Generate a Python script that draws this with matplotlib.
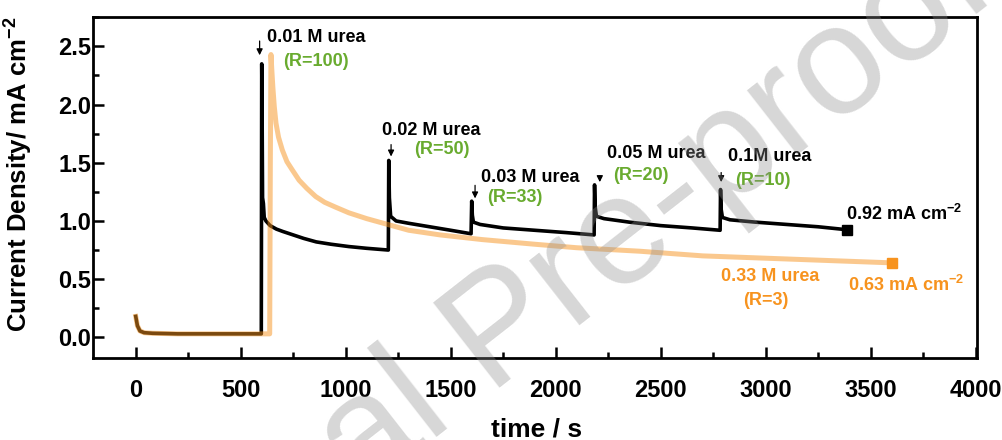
import matplotlib
matplotlib.use('Agg')
import matplotlib.pyplot as plt
from matplotlib.ticker import MultipleLocator

plt.rcParams['font.family'] = ['Liberation Sans', 'DejaVu Sans']
plt.rcParams['font.weight'] = 'bold'
plt.rcParams['mathtext.fontset'] = 'custom'
plt.rcParams['mathtext.rm'] = 'Liberation Sans:bold'
plt.rcParams['mathtext.default'] = 'rm'

# black trace: urea added stepwise (0.01 -> 0.1 M)
black_t = [0, 8, 20, 40, 80, 200, 400, 598, 600, 602, 604, 608, 612, 620, 640, 670, 700,
           750, 800, 860, 930, 1015, 1100, 1203, 1205, 1208, 1214, 1240, 1300, 1400, 1500,
           1597, 1600, 1603, 1608, 1640, 1750, 1900, 2050, 2183, 2185, 2188, 2194, 2230,
           2350, 2500, 2650, 2783, 2785, 2788, 2794, 2830, 2950, 3100, 3250, 3385]
black_j = [0.18, 0.10, 0.055, 0.04, 0.035, 0.03, 0.03, 0.03, 2.35, 1.90, 1.20, 1.15, 1.03,
           1.00, 0.96, 0.93, 0.91, 0.88, 0.85, 0.82, 0.80, 0.78, 0.765, 0.75, 1.52, 1.20,
           1.04, 1.00, 0.98, 0.95, 0.92, 0.89, 1.17, 1.05, 0.99, 0.97, 0.94, 0.92, 0.90,
           0.88, 1.31, 1.12, 1.04, 1.02, 0.99, 0.96, 0.94, 0.92, 1.27, 1.10, 1.03, 1.01,
           0.99, 0.97, 0.95, 0.925]

# orange trace: 0.33 M urea in one go
orange_t = [0, 8, 20, 40, 80, 200, 400, 638, 641, 644, 648, 653, 660, 668, 680, 698, 720,
            745, 778, 815, 857, 900, 950, 1015, 1100, 1200, 1300, 1450, 1650, 1900, 2100,
            2400, 2700, 3000, 3300, 3600]
orange_j = [0.18, 0.10, 0.055, 0.04, 0.035, 0.03, 0.03, 0.03, 1.50, 2.43, 2.30, 2.15, 1.98,
            1.84, 1.72, 1.61, 1.51, 1.44, 1.35, 1.28, 1.21, 1.16, 1.12, 1.07, 1.02, 0.97,
            0.92, 0.88, 0.84, 0.80, 0.77, 0.74, 0.70, 0.68, 0.66, 0.64]

black_end = (3385, 0.925)
orange_end = (3600, 0.64)

# arrows above each addition: (t, y_from, y_to)
arrows = [(590, 2.57, 2.40), (1216, 1.68, 1.53), (1616, 1.33, 1.17),
          (2210, 1.41, 1.31), (2788, 1.44, 1.31)]

# labels: (text, t, j)
black_labels = [('0.01 M urea', 623, 2.58), ('0.02 M urea', 1173, 1.78),
                ('0.03 M urea', 1642, 1.37), ('0.05 M urea', 2244, 1.58),
                ('0.1M urea', 2820, 1.55)]
green_labels = [('(R=100)', 859, 2.37), ('(R=50)', 1457, 1.61), ('(R=33)', 1807, 1.20),
                ('(R=20)', 2404, 1.39), ('(R=10)', 2986, 1.35)]

ORANGE = '#F7931E'
GREEN = '#69AB2F'

fig = plt.figure(figsize=(10.03, 4.40), dpi=100)
ax = fig.add_axes([0.0924, 0.1857, 0.8814, 0.775])

ax.plot(black_t, black_j, color='black', lw=2.6, zorder=3)
ax.plot(orange_t, orange_j, color=ORANGE, lw=3.6, alpha=0.5, zorder=4)
ax.plot(*black_end, 's', color='black', ms=7, zorder=5)
ax.plot(*orange_end, 's', color=ORANGE, ms=7, zorder=5)

for t, y0, y1 in arrows:
    ax.annotate('', xy=(t, y1), xytext=(t, y0),
                arrowprops=dict(arrowstyle='-|>', color='black', lw=0.9, mutation_scale=9))

for s, t, j in black_labels:
    ax.text(t, j, s, ha='left', va='center', fontsize=13, color='black')
for s, t, j in green_labels:
    ax.text(t, j, s, ha='center', va='center', fontsize=13, color=GREEN)

ax.text(3381, 1.06, '0.92 mA cm$^{-2}$', ha='left', va='center', fontsize=13, color='black')
ax.text(3020, 0.52, '0.33 M urea', ha='center', va='center', fontsize=13, color=ORANGE)
ax.text(3002, 0.32, '(R=3)', ha='center', va='center', fontsize=13, color=ORANGE)
ax.text(3393, 0.45, '0.63 mA cm$^{-2}$', ha='left', va='center', fontsize=13, color=ORANGE)

ax.set_xlim(-205, 4005)
ax.set_ylim(-0.18, 2.75)
ax.xaxis.set_major_locator(MultipleLocator(500))
ax.xaxis.set_minor_locator(MultipleLocator(250))
ax.yaxis.set_major_locator(MultipleLocator(0.5))
ax.yaxis.set_minor_locator(MultipleLocator(0.25))
ax.tick_params(which='both', direction='in', top=False, right=False, width=1.8, labelsize=17)
ax.tick_params(which='major', length=8)
ax.tick_params(which='minor', length=4)
ax.tick_params(axis='x', pad=15)
ax.tick_params(axis='y', pad=1)
for sp in ax.spines.values():
    sp.set_linewidth(2)

ax.set_xlabel('time / s', fontsize=19, fontweight='bold', va='top')
ax.xaxis.set_label_coords(0.502, -0.175)
ax.set_ylabel('Current Density/ mA cm$^{-2}$', fontsize=18.5, fontweight='bold')
ax.yaxis.set_label_coords(-0.0655, 0.54)

# watermark
fig.text(0.054, -0.673, 'Journal Pre-proof', fontsize=112, fontweight='normal', color='0.55',
         alpha=0.35, rotation=38, rotation_mode='anchor', ha='left', va='baseline', zorder=10)

fig.savefig('out.png', dpi=100)
